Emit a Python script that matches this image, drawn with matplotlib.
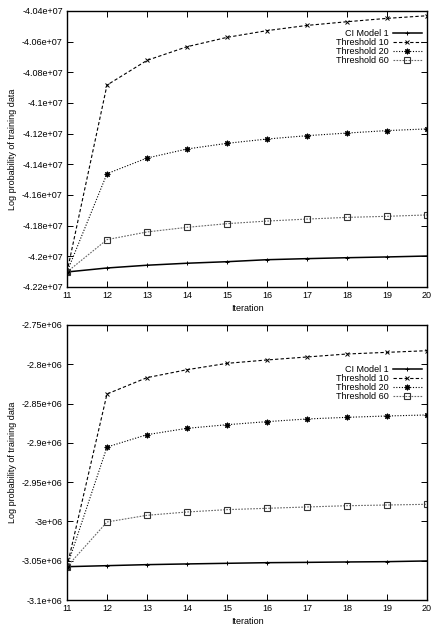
import numpy as np
import matplotlib
matplotlib.use("Agg")
import matplotlib.pyplot as plt
from matplotlib.ticker import MultipleLocator, FuncFormatter

plt.rcParams['font.family'] = ['Liberation Sans', 'DejaVu Sans']

iterations = [11, 12, 13, 14, 15, 16, 17, 18, 19, 20]

# top panel (values in units of 1e7)
top_ci = [-4.2102, -4.2076, -4.2058, -4.2045, -4.2035, -4.2022, -4.2015, -4.2009, -4.2004, -4.1998]
top_t10 = [-4.2102, -4.0883, -4.0722, -4.0633, -4.0572, -4.0528, -4.0494, -4.0470, -4.0448, -4.0431]
top_t20 = [-4.2102, -4.1461, -4.1359, -4.1300, -4.1263, -4.1235, -4.1213, -4.1196, -4.1180, -4.1169]
top_t60 = [-4.2102, -4.1891, -4.1841, -4.1811, -4.1787, -4.1770, -4.1757, -4.1746, -4.1739, -4.1730]

# bottom panel (values in units of 1e6)
bot_ci = [-3.0576, -3.0563, -3.0550, -3.0541, -3.0533, -3.0525, -3.0521, -3.0516, -3.0512, -3.0503]
bot_t10 = [-3.0576, -2.8378, -2.8170, -2.8069, -2.7988, -2.7945, -2.7907, -2.7869, -2.7848, -2.7827]
bot_t20 = [-3.0576, -2.9053, -2.8896, -2.8815, -2.8769, -2.8730, -2.8696, -2.8675, -2.8658, -2.8645]
bot_t60 = [-3.0576, -3.0007, -2.9922, -2.9880, -2.9850, -2.9833, -2.9816, -2.9800, -2.9791, -2.9782]

labels = ["CI Model 1", "Threshold 10", "Threshold 20", "Threshold 60"]

W, H = 434, 624
fig = plt.figure(figsize=(W / 100, H / 100), dpi=100)


def panel(top_px, bot_px, series, scale, ylim, ystep, legend_y):
    ax = fig.add_axes([67 / W, 1 - bot_px / H, (427 - 67) / W, (bot_px - top_px) / H])
    x = np.array(iterations)
    ci, t10, t20, t60 = [np.array(s) * scale for s in series]
    ax.plot(x, ci, color="black", lw=1.1, marker="+", ms=3.5, mew=0.7, label=labels[0])
    ax.plot(x, t10, color="black", lw=0.8, ls=(0, (3, 2)), marker="x", ms=3.5, mew=0.7, label=labels[1])
    ax.plot(x, t20, color="black", lw=0.8, ls=(0, (1, 1.5)), marker=(8, 2, 0), ms=4, mew=0.8, label=labels[2])
    ax.plot(x, t60, color="#666666", lw=0.8, ls=(0, (1.5, 1.2)), marker="s", ms=4, mew=0.8,
            mfc="none", mec="#333333", label=labels[3])

    ax.set_xlim(11, 20)
    ax.set_ylim(ylim[0] * scale, ylim[1] * scale)
    ax.xaxis.set_major_locator(MultipleLocator(1))
    ax.yaxis.set_major_locator(MultipleLocator(ystep * scale))
    ax.yaxis.set_major_formatter(FuncFormatter(lambda v, p: f"{v:g}"))
    ax.tick_params(direction="in", length=4, width=0.7, labelsize=6.5,
                   top=True, right=True, pad=3)
    for s in ax.spines.values():
        s.set_linewidth(1.0)
    ax.set_xlabel("Iteration", fontsize=6.5, labelpad=3)
    ax.set_ylabel("Log probability of training data", fontsize=6.5, labelpad=4)

    ax.legend(loc="upper right", bbox_to_anchor=(1.0, legend_y), frameon=False,
              markerfirst=False, fontsize=6.5, handlelength=3.2, handletextpad=0.4,
              labelspacing=0.02, borderaxespad=0.2)
    return ax


panel(11, 287, [top_ci, top_t10, top_t20, top_t60], 1e7, (-4.22, -4.04), 0.02, 0.955)
panel(325, 600, [bot_ci, bot_t10, bot_t20, bot_t60], 1e6, (-3.10, -2.75), 0.05, 0.875)

fig.savefig("out.png", dpi=100)
